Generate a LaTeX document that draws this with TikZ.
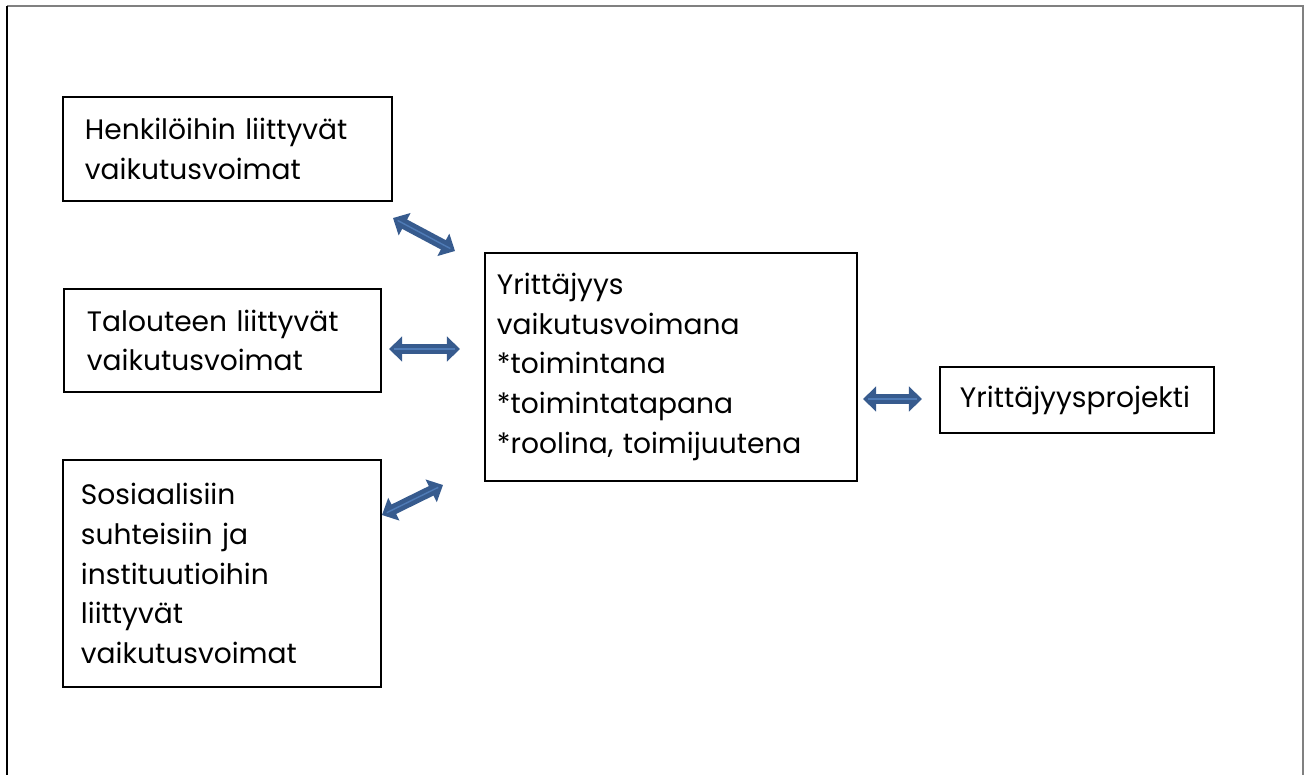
\documentclass[tikz,border=0pt]{standalone}
\usepackage{fontspec}
\setmainfont{Poppins}
\usetikzlibrary{arrows.meta, positioning}
\definecolor{arrowblue}{HTML}{375B8E}
\definecolor{arrowlight}{HTML}{4F7BB6}
\definecolor{framegray}{HTML}{808080}

\begin{document}
\begin{tikzpicture}[
    x=0.02cm, y=-0.02cm,
    font=\fontsize{16}{22.5}\selectfont,
    box/.style={draw, line width=1.1pt, anchor=north west, align=left, inner ysep=0pt},
    dblarrow/.style={draw=arrowblue, line width=6pt,
      {Triangle[width=14pt,length=7.5pt]}-{Triangle[width=14pt,length=7.5pt]}},
    arrowcore/.style={draw=arrowlight, line width=0.8pt, shorten <=3pt, shorten >=3pt}
  ]
    \useasboundingbox (0,0) rectangle (1310,775);
    % page frame, open at the bottom
    \draw[framegray, line width=0.8pt] (7,6) -- (1303,6) -- (1303,775);
    \draw[black, line width=0.9pt] (7,6) -- (7,775);

    \node[box, minimum width=6.58cm, minimum height=2.08cm, inner xsep=0.44cm, text width=5.70cm]
      (henk) at (62,96) {Henkilöihin liittyvät\\vaikutusvoimat};
    \node[box, minimum width=6.34cm, minimum height=2.06cm, inner xsep=0.46cm, text width=5.42cm]
      (talous) at (63,288) {Talouteen liittyvät\\vaikutusvoimat};
    \node[box, minimum width=6.36cm, minimum height=4.54cm, inner xsep=0.36cm, text width=5.64cm]
      (sos) at (62,459) {Sosiaalisiin\\suhteisiin ja\\instituutioihin\\liittyvät\\vaikutusvoimat};
    \node[box, minimum width=7.44cm, minimum height=4.56cm, inner xsep=0.24cm, text width=6.96cm]
      (yritt) at (484,252) {Yrittäjyys\\vaikutusvoimana\\{*}toimintana\\{*}toimintatapana\\{*}roolina, toimijuutena};
    \node[box, minimum width=5.48cm, minimum height=1.32cm, inner xsep=0.40cm, text width=4.68cm]
      (proj) at (939,366) {Yrittäjyysprojekti};

    % arrow ends
    \coordinate (henkA) at (393,218);
    \coordinate (henkB) at (455,251);
    \coordinate (talA) at (389,349);
    \coordinate (talB) at (460,349);
    \coordinate (sosA) at (382,515);
    \coordinate (sosB) at (443,485);
    \coordinate (projA) at (863,399);
    \coordinate (projB) at (922,399);

    \foreach \a/\b in {henkA/henkB, talA/talB, sosA/sosB, projA/projB} {
      \draw[dblarrow] (\a) -- (\b);
      \draw[arrowcore] (\a) -- (\b);
    }
\end{tikzpicture}
\end{document}
